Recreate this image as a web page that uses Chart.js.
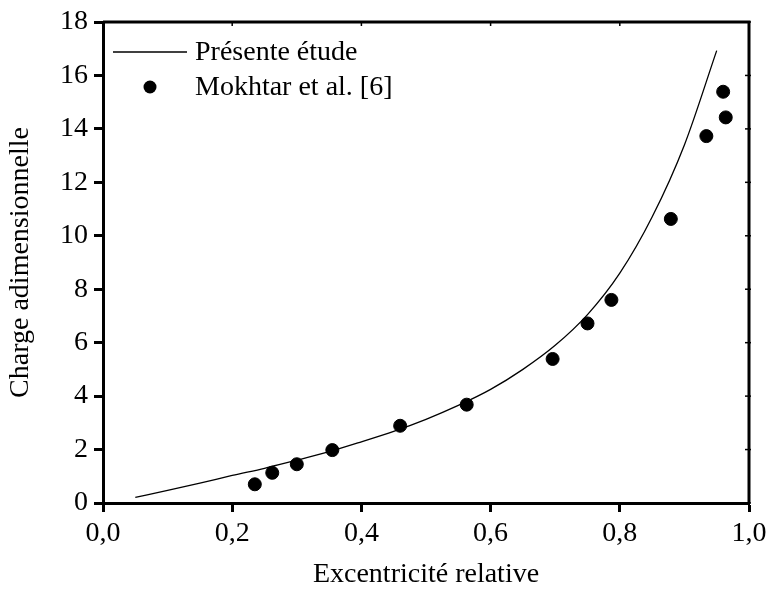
<!DOCTYPE html>
<html>
<head>
<meta charset="utf-8">
<script src="https://cdn.jsdelivr.net/npm/chart.js@4.4.1/dist/chart.umd.min.js"></script>
<style>
  html, body { margin: 0; padding: 0; background: #fff; }
  #wrap { width: 768px; height: 591px; }
</style>
</head>
<body>
<div id="wrap"><canvas id="chart"></canvas></div>
<script>
// courbe "Présente étude"
const curveX = [0.05, 0.10, 0.15, 0.20, 0.25, 0.30, 0.35, 0.40, 0.45, 0.50, 0.55, 0.60, 0.65, 0.70, 0.75, 0.80, 0.85, 0.90, 0.95];
const curveY = [0.21, 0.47, 0.74, 1.03, 1.30, 1.60, 1.92, 2.29, 2.68, 3.13, 3.65, 4.25, 5.00, 5.90, 7.05, 8.60, 10.70, 13.40, 16.93];

// points Mokhtar et al. [6]
const mokhtarX = [0.235, 0.262, 0.300, 0.355, 0.460, 0.563, 0.696, 0.750, 0.787, 0.879, 0.934, 0.960, 0.964];
const mokhtarY = [0.70, 1.13, 1.45, 1.98, 2.89, 3.68, 5.39, 6.72, 7.60, 10.63, 13.73, 15.39, 14.43];

const xTickLabels = ["0,0", "0,2", "0,4", "0,6", "0,8", "1,0"];
const yTickLabels = ["0", "2", "4", "6", "8", "10", "12", "14", "16", "18"];

const FONT = "'Liberation Serif', 'Times New Roman', serif";
const SIZE = 28;
Chart.defaults.font.family = FONT;
Chart.defaults.color = "#000";

// cadre + petites graduations haut/droite + légende
const framePlugin = {
  id: "frame",
  afterDraw(chart) {
    const { ctx, chartArea: a, scales } = chart;
    ctx.save();
    ctx.strokeStyle = "#000";
    ctx.lineWidth = 3;
    ctx.beginPath();
    ctx.moveTo(a.left, a.top);
    ctx.lineTo(a.right, a.top);
    ctx.lineTo(a.right, a.bottom);
    ctx.stroke();

    ctx.lineWidth = 1.5;
    scales.x.ticks.forEach(t => {
      const px = scales.x.getPixelForValue(t.value);
      ctx.beginPath();
      ctx.moveTo(px, a.top);
      ctx.lineTo(px, a.top + 4);
      ctx.stroke();
    });
    scales.y.ticks.forEach(t => {
      const py = scales.y.getPixelForValue(t.value);
      ctx.beginPath();
      ctx.moveTo(a.right - 4, py);
      ctx.lineTo(a.right + 2, py);
      ctx.stroke();
    });

    // légende
    const ds = chart.data.datasets;
    ctx.font = SIZE + "px " + FONT;
    ctx.fillStyle = "#000";
    ctx.textBaseline = "middle";
    ctx.lineWidth = 1.3;
    ctx.beginPath();
    ctx.moveTo(113, 52);
    ctx.lineTo(187, 52);
    ctx.stroke();
    ctx.fillText(ds[0].label, 195, 53);
    ctx.beginPath();
    ctx.arc(150, 87, 6.5, 0, Math.PI * 2);
    ctx.fill();
    ctx.fillText(ds[1].label, 195, 88);
    ctx.restore();
  }
};

new Chart(document.getElementById("chart"), {
  type: "scatter",
  data: {
    datasets: [
      {
        type: "line",
        label: "Présente étude",
        data: curveX.map((x, i) => ({ x: x, y: curveY[i] })),
        borderColor: "#000",
        borderWidth: 1.3,
        pointRadius: 0,
        cubicInterpolationMode: "monotone",
        fill: false
      },
      {
        label: "Mokhtar et al. [6]",
        data: mokhtarX.map((x, i) => ({ x: x, y: mokhtarY[i] })),
        backgroundColor: "#000",
        borderColor: "#000",
        pointRadius: 6.5,
        pointHoverRadius: 6.5
      }
    ]
  },
  options: {
    responsive: true,
    maintainAspectRatio: false,
    animation: false,
    events: [],
    layout: { padding: { left: 0, right: 19, top: 22, bottom: 0 } },
    plugins: {
      legend: { display: false },
      tooltip: { enabled: false }
    },
    scales: {
      x: {
        type: "linear",
        min: 0,
        max: 1,
        afterFit: s => { s.height = 88; s.paddingRight = 0; s.paddingLeft = 0; },
        border: { display: true, color: "#000", width: 3 },
        grid: { drawOnChartArea: false, color: "#000", tickLength: 9, tickWidth: 3 },
        ticks: {
          stepSize: 0.2,
          padding: 5,
          font: { size: SIZE },
          color: "#000",
          callback: (v, i) => xTickLabels[i]
        },
        title: {
          display: true,
          text: "Excentricité relative",
          font: { size: SIZE },
          color: "#000",
          padding: { top: 2, bottom: 0 }
        }
      },
      y: {
        min: 0,
        max: 18,
        afterFit: s => { s.width = 103; s.paddingTop = 0; s.paddingBottom = 0; },
        border: { display: true, color: "#000", width: 3 },
        grid: { drawOnChartArea: false, color: "#000", tickLength: 9, tickWidth: 3 },
        ticks: {
          stepSize: 2,
          padding: 6,
          font: { size: SIZE },
          color: "#000",
          callback: (v, i) => yTickLabels[i]
        },
        title: {
          display: true,
          text: "Charge adimensionnelle",
          font: { size: SIZE },
          color: "#000",
          padding: { top: 4, bottom: 0 }
        }
      }
    }
  },
  plugins: [framePlugin]
});
</script>
</body>
</html>
